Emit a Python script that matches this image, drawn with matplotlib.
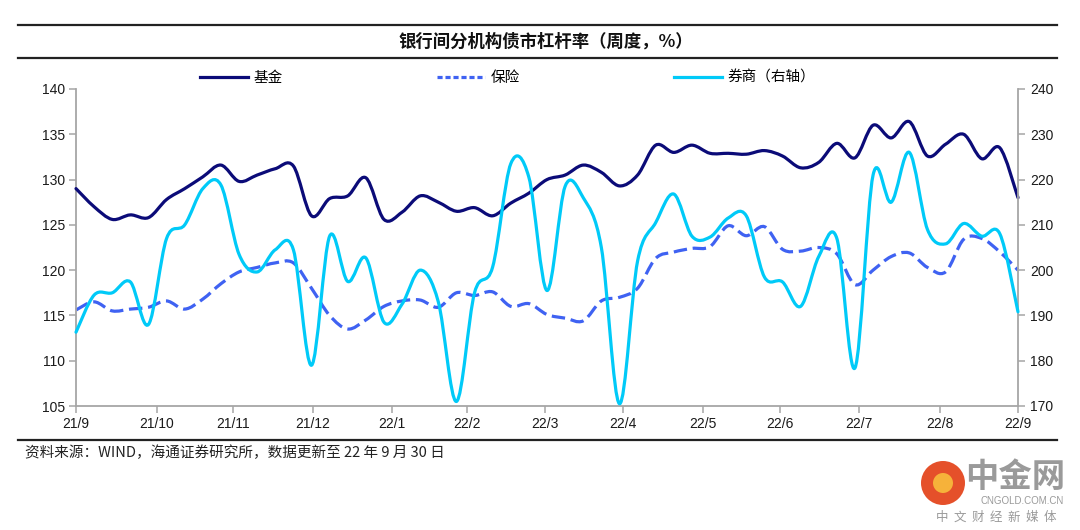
import numpy as np
import matplotlib
matplotlib.use("Agg")
import matplotlib.pyplot as plt
from matplotlib.path import Path
from matplotlib.patches import PathPatch, Ellipse
from matplotlib.lines import Line2D

plt.rcParams["font.family"] = ["Liberation Sans", "Noto Sans CJK SC", "DejaVu Sans"]
CJK = ["Noto Sans CJK SC", "DejaVu Sans"]

# ── Data (weekly, 2021/9 – 2022/9) ──────────────────────────────────────────
month_labels = ["21/9", "21/10", "21/11", "21/12", "22/1", "22/2", "22/3",
                "22/4", "22/5", "22/6", "22/7", "22/8", "22/9"]

fund = [129.0, 127.0, 125.6, 126.1, 125.8, 127.8, 129.0, 130.3, 131.6, 129.8,
        130.5, 131.2, 131.5, 126.0, 127.9, 128.2, 130.2, 125.6, 126.4, 128.2,
        127.5, 126.5, 126.9, 126.0, 127.4, 128.5, 130.0, 130.5, 131.6, 130.8,
        129.3, 130.5, 133.8, 133.0, 133.8, 132.9, 132.9, 132.8, 133.2, 132.6,
        131.3, 131.9, 134.0, 132.4, 136.0, 134.6, 136.4, 132.6, 133.9, 135.0,
        132.3, 133.5, 128.0]

insurance = [115.6, 116.5, 115.5, 115.7, 115.9, 116.6, 115.7, 116.8, 118.5, 119.8,
             120.3, 120.8, 120.8, 118.0, 115.0, 113.5, 114.5, 116.0, 116.6, 116.7,
             115.9, 117.5, 117.2, 117.6, 116.0, 116.3, 115.1, 114.7, 114.4, 116.6,
             117.0, 118.0, 121.3, 122.0, 122.4, 122.6, 124.9, 123.8, 124.8, 122.3,
             122.1, 122.5, 121.8, 118.4, 120.0, 121.5, 121.9, 120.3, 119.8, 123.4,
             123.5, 122.0, 120.0]

broker = [186.3, 194.5, 195.0, 197.4, 188.0, 207.0, 210.0, 218.0, 218.8, 203.5,
          199.6, 204.5, 204.5, 179.0, 207.5, 197.5, 202.7, 188.5, 192.5, 200.0,
          193.0, 171.0, 195.0, 200.7, 223.5, 220.5, 195.5, 218.5, 216.0, 205.0,
          170.5, 202.0, 210.5, 216.8, 207.5, 207.3, 211.5, 212.0, 198.5, 197.4,
          192.0, 203.0, 207.0, 178.4, 221.0, 215.0, 226.0, 209.0, 205.8, 210.3,
          207.5, 208.0, 190.8]

# tick positions (in weeks) where each month label sits
tick_pos = [0, 4.47, 8.67, 13.08, 17.44, 21.58, 25.89, 30.2, 34.6, 38.86,
            43.22, 47.7, 52]

C_FUND = "#0B0B78"
C_INS = "#3F62F2"
C_BRK = "#00CAF8"
C_AX = "#A6A6A6"


def smooth_patch(xs, ys, **kw):
    """Excel-style smoothed line drawn as cubic Bezier through the points."""
    pts = np.column_stack([xs, ys]).astype(float)
    n = len(pts)
    verts = [pts[0]]
    codes = [Path.MOVETO]
    for i in range(n - 1):
        p0 = pts[i - 1] if i > 0 else pts[i]
        p1, p2 = pts[i], pts[i + 1]
        p3 = pts[i + 2] if i + 2 < n else p2
        verts += [p1 + (p2 - p0) / 6, p2 - (p3 - p1) / 6, p2]
        codes += [Path.CURVE4] * 3
    return PathPatch(Path(verts, codes), fill=False, **kw)


x = np.arange(len(fund))

fig = plt.figure(figsize=(10.8, 5.3), dpi=100)
ax = fig.add_axes([76 / 1080, 1 - 406 / 530, (1018 - 76) / 1080, (406 - 89) / 530])
ax2 = ax.twinx()

ax.add_patch(smooth_patch(x, fund, edgecolor=C_FUND, lw=2.3, capstyle="round",
                          joinstyle="round", clip_on=False, zorder=3))
ax.add_patch(smooth_patch(x, insurance, edgecolor=C_INS, lw=2.3,
                          linestyle=(0, (4.2, 1.8)), capstyle="butt",
                          clip_on=False, zorder=2))
ax2.add_patch(smooth_patch(x, broker, edgecolor=C_BRK, lw=2.3, capstyle="round",
                           joinstyle="round", clip_on=False, zorder=3))

ax.set_xlim(0, len(fund) - 1)
ax.set_ylim(105, 140)
ax.set_yticks(np.arange(105, 141, 5))
ax2.set_ylim(170, 240)
ax2.set_yticks(np.arange(170, 241, 10))
ax.set_xticks(tick_pos)
ax.set_xticklabels(month_labels)

for a in (ax, ax2):
    a.spines["top"].set_visible(False)
    for s in ("left", "right", "bottom"):
        a.spines[s].set_color(C_AX)
        a.spines[s].set_linewidth(1.3)
    a.tick_params(colors=C_AX, labelcolor="#1a1a1a", labelsize=10,
                  length=5, width=1.1, direction="out")
ax.spines["right"].set_visible(False)
ax2.spines["left"].set_visible(False)
ax2.spines["bottom"].set_visible(False)
ax.tick_params(axis="y", pad=3)
ax.tick_params(axis="x", pad=3)

# ── Legend ────────────────────────────────────────────────────────────────
handles = [Line2D([], [], color=C_FUND, lw=2.3),
           Line2D([], [], color=C_INS, lw=2.3, linestyle=(0, (1.6, 0.9))),
           Line2D([], [], color=C_BRK, lw=2.3)]
fig.legend(handles, ["基金", "保险", "券商（右轴）"], loc="center",
           bbox_to_anchor=(0.470, 1 - 78 / 530), ncol=3, frameon=False,
           handlelength=3.3, handletextpad=0.35, columnspacing=10.6,
           prop={"family": CJK, "size": 10.5})

# ── Header / footer ─────────────────────────────────────────────────────────
for yy in (1 - 25 / 530, 1 - 58 / 530, 1 - 440 / 530):
    fig.add_artist(Line2D([18 / 1080, 1057 / 1080], [yy, yy], color="#222222",
                          lw=1.6, transform=fig.transFigure))

fig.text(0.505, 1 - 42 / 530, "银行间分机构债市杠杆率（周度，%）", ha="center",
         va="center", fontsize=12.5, fontweight="bold", family=CJK, color="#111111")
fig.text(25 / 1080, 1 - 453 / 530,
         "资料来源：WIND，海通证券研究所，数据更新至 22 年 9 月 30 日",
         ha="left", va="center", fontsize=10.5, family=CJK, color="#222222")

# watermark
cx, cy = 943 / 1080, 1 - 483 / 530
fig.add_artist(Ellipse((cx, cy), 44 / 1080, 44 / 530, transform=fig.transFigure,
                       facecolor="#E5502A", edgecolor="none"))
fig.add_artist(Ellipse((cx, cy), 20 / 1080, 20 / 530, transform=fig.transFigure,
                       facecolor="#F6B23A", edgecolor="none"))
fig.text(1015 / 1080, 1 - 478 / 530, "中金网", ha="center", va="center",
         fontsize=24, family=CJK, color="#9a9a9a", fontweight="bold")
fig.text(1022 / 1080, 1 - 501 / 530, "CNGOLD.COM.CN", ha="center", va="center",
         fontsize=7, color="#9a9a9a")
fig.text(996 / 1080, 1 - 517 / 530, "中  文  财  经  新  媒  体", ha="center",
         va="center", fontsize=9, family=CJK, color="#9a9a9a")

fig.savefig("out.png", dpi=100)
